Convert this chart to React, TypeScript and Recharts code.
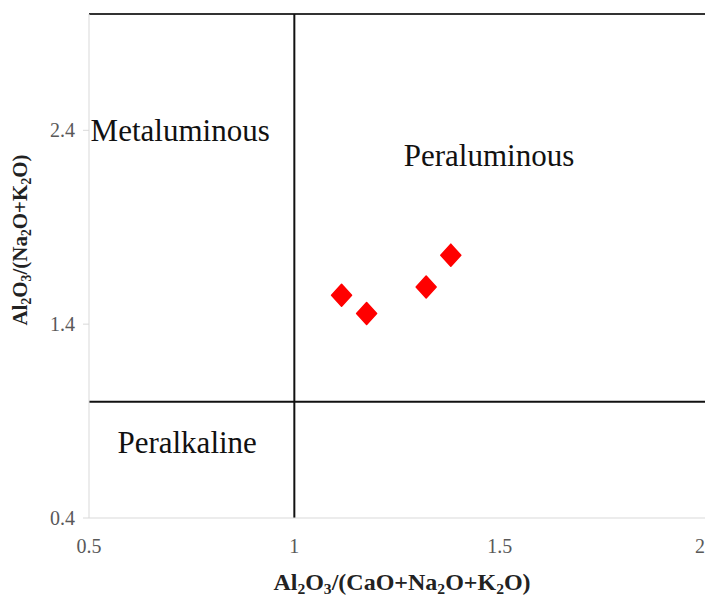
import React from "react";
import {
  ScatterChart,
  Scatter,
  XAxis,
  YAxis,
  ReferenceLine,
  ReferenceDot,
} from "recharts";

// A/CNK vs A/NK samples
const acnk = [1.115, 1.176, 1.321, 1.381];
const ank = [1.549, 1.455, 1.592, 1.756];

const xTicks = [0.5, 1, 1.5, 2];
const yTicks = [0.4, 1.4, 2.4];

const fields = ["Metaluminous", "Peraluminous", "Peralkaline"];
const fieldX = [0.722, 1.474, 0.739];
const fieldY = [2.4, 2.27, 0.79];

const points = acnk.map((x, i) => ({ x, y: ank[i] }));

const SERIF = "'Liberation Serif', 'Times New Roman', serif";

function Diamond(props: any) {
  const { cx, cy } = props;
  return (
    <path
      d={`M${cx},${cy - 11} L${cx + 10},${cy} L${cx},${cy + 11} L${cx - 10},${cy} Z`}
      fill="#ff0000"
      stroke="#ff0000"
      strokeWidth={1.5}
      strokeLinejoin="round"
    />
  );
}

function FieldLabel({ viewBox, value }: any) {
  if (!viewBox) return null;
  return (
    <text
      x={viewBox.x + (viewBox.width || 0) / 2}
      y={viewBox.y + (viewBox.height || 0) / 2}
      textAnchor="middle"
      dominantBaseline="central"
      fontFamily={SERIF}
      fontSize={31}
      fill="#111"
    >
      {value}
    </text>
  );
}

function Sub({ children }: { children: React.ReactNode }) {
  return (
    <tspan fontSize="0.65em" baselineShift="-25%">
      {children}
    </tspan>
  );
}

function XTitle() {
  return (
    <text x={402} y={590} textAnchor="middle" fontFamily={SERIF} fontSize={24} fontWeight="bold" fill="#222">
      <tspan>Al</tspan><Sub>2</Sub><tspan>O</tspan><Sub>3</Sub>
      <tspan>/(CaO+Na</tspan><Sub>2</Sub><tspan>O+K</tspan><Sub>2</Sub><tspan>O)</tspan>
    </text>
  );
}

function YTitle() {
  return (
    <text
      x={0}
      y={0}
      transform="translate(27,240) rotate(-90)"
      textAnchor="middle"
      fontFamily={SERIF}
      fontSize={21}
      fontWeight="bold"
      fill="#222"
    >
      <tspan>Al</tspan><Sub>2</Sub><tspan>O</tspan><Sub>3</Sub>
      <tspan>/(Na</tspan><Sub>2</Sub><tspan>O+K</tspan><Sub>2</Sub><tspan>O)</tspan>
    </text>
  );
}

export default function App() {
  return (
    <div style={{ position: "absolute", left: 0, top: 0, width: 705, height: 599, background: "#fff" }}>
      <ScatterChart width={705} height={599} margin={{ top: 14, right: 0, bottom: 0, left: 0 }}>
        <XAxis
          type="number"
          dataKey="x"
          domain={[0.5, 2]}
          ticks={xTicks}
          height={81}
          stroke="#d9d9d9"
          tickLine={false}
          tickMargin={15}
          tick={{ fill: "#595959", fontSize: 20, fontFamily: SERIF }}
          label={<XTitle />}
        />
        <YAxis
          type="number"
          dataKey="y"
          domain={[0.4, 3.0]}
          ticks={yTicks}
          width={89}
          stroke="#d9d9d9"
          tickSize={6}
          tickMargin={8}
          tick={{ fill: "#595959", fontSize: 20, fontFamily: SERIF }}
          label={<YTitle />}
        />
        <ReferenceLine y={3.0} stroke="#333" strokeWidth={2} />
        <ReferenceLine x={1} stroke="#111" strokeWidth={2} />
        <ReferenceLine y={1} stroke="#111" strokeWidth={2} />
        {fields.map((f, i) => (
          <ReferenceDot
            key={f}
            x={fieldX[i]}
            y={fieldY[i]}
            r={0}
            fill="none"
            stroke="none"
            label={<FieldLabel value={f} />}
          />
        ))}
        <Scatter data={points} shape={<Diamond />} isAnimationActive={false} />
      </ScatterChart>
    </div>
  );
}
